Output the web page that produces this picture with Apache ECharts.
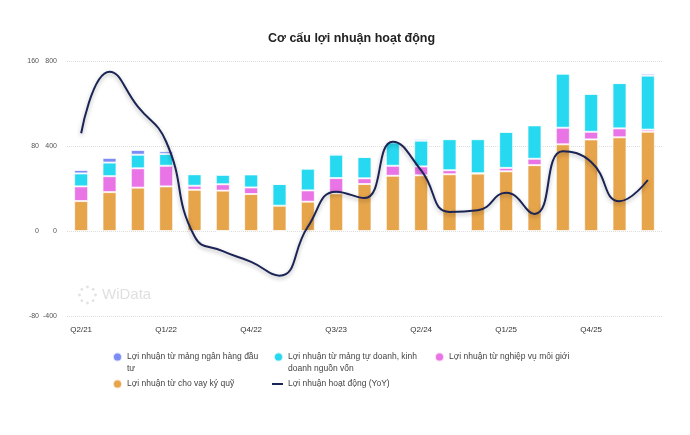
<!DOCTYPE html>
<html>
<head>
<meta charset="utf-8">
<script src="https://cdn.jsdelivr.net/npm/echarts@6/dist/echarts.min.js"></script>
<style>
  html, body { margin: 0; padding: 0; background: #fff; }
  #chart { width: 690px; height: 435px; }
</style>
</head>
<body>
<div id="chart"></div>
<script>
var quarters = ["Q2/21", "Q3/21", "Q4/21", "Q1/22", "Q2/22", "Q3/22", "Q4/22", "Q1/23", "Q2/23", "Q3/23", "Q4/23",
    "Q1/24", "Q2/24", "Q3/24", "Q4/24", "Q1/25", "Q2/25", "Q3/25", "Q4/25", "Q1/26", "Q2/26"];

// billion VND
var marginLending = [141, 183, 204, 210, 194, 190, 174, 119, 138, 177, 221, 260, 262, 267, 270, 281, 310, 408, 431, 441, 467];
var brokerage = [69, 75, 91, 97, 19, 30, 31, -3, 53, 72, 27, 47, 42, 19, 2, 16, 30, 78, 36, 42, 10];
var proprietary = [61, 64, 64, 55, 54, 44, 61, 102, 102, 110, 100, 110, 121, 146, 160, 169, 157, 254, 178, 213, 254];
var investmentBanking = [16, 22, 22, 13, 2, -3, 1, 0, 3, 6, 2, 0, 8, 3, 5, 3, 2, 2, 2, 1, 9];
// %
var operatingYoY = [92, 150, 117, 84, -5, -19, -29, -42, 4, 37, 31, 84, 57, 18, 19.5, 36, 16, 75, 65, 28, 48];

var names = [
    "Lợi nhuận từ mảng ngân hàng đầu tư",
    "Lợi nhuận từ mảng tự doanh, kinh doanh nguồn vốn",
    "Lợi nhuận từ nghiệp vụ môi giới",
    "Lợi nhuận từ cho vay ký quỹ",
    "Lợi nhuận hoạt động (YoY)"
];
var wrapped = {};
wrapped[names[0]] = "Lợi nhuận từ mảng ngân hàng đầu\ntư";
wrapped[names[1]] = "Lợi nhuận từ mảng tự doanh, kinh\ndoanh nguồn vốn";

var FONT = "'Liberation Sans', Arial, sans-serif";

var chart = echarts.init(document.getElementById("chart"));

var barStyle = function(color) {
    return { color: color, borderColor: "rgba(255,255,255,0.7)", borderWidth: 1 };
};

// circle sitting at the top of a tall box, so it lines up with the first text line
var topDot = "path://M0,4.5A4.5,4.5 0 1 1 9,4.5A4.5,4.5 0 1 1 0,4.5Z M0,21L9,21";

function legendFor(name, left, top, extra) {
    return Object.assign({
        data: [name],
        left: left,
        top: top,
        padding: 0,
        itemWidth: 9,
        itemHeight: 9,
        icon: "circle",
        formatter: function(n) { return wrapped[n] || n; },
        textStyle: { fontFamily: FONT, fontSize: 8.5, color: "#444", lineHeight: 12 }
    }, extra || {});
}

// dotted ring of the watermark logo
var logoDots = [];
for (var i = 0; i < 8; i++) {
    var a = i * Math.PI / 4;
    logoDots.push({
        type: "circle",
        shape: { cx: 87.5 + 8 * Math.cos(a), cy: 295 + 8 * Math.sin(a), r: 1.4 },
        style: { fill: "#e2e2e2" },
        silent: true
    });
}

var option = {
    animation: false,
    textStyle: { fontFamily: FONT },
    title: {
        text: "Cơ cấu lợi nhuận hoạt động",
        left: 263,
        top: 27,
        textStyle: { fontFamily: FONT, fontSize: 12.5, fontWeight: "bold", color: "#222" }
    },
    grid: { left: 67, right: 28, top: 61, bottom: 119 },
    legend: [
        legendFor(names[0], 112, 351, { itemHeight: 21, icon: topDot }),
        legendFor(names[1], 273, 351, { itemHeight: 21, icon: topDot }),
        legendFor(names[2], 434, 351),
        legendFor(names[3], 112, 378),
        legendFor(names[4], 272, 378, { itemWidth: 11, itemHeight: 2, icon: "rect" })
    ],
    graphic: logoDots.concat([{
        type: "text",
        left: 102,
        top: 287,
        silent: true,
        style: { text: "WiData", fontSize: 15, fontFamily: FONT, fill: "#e0e0e0" }
    }]),
    xAxis: {
        type: "category",
        data: quarters,
        axisLine: { show: false, onZero: false },
        axisTick: { show: false },
        axisLabel: { interval: 2, fontSize: 8, color: "#333", margin: 10 }
    },
    yAxis: [{
        type: "value",
        position: "left",
        min: -400, max: 800, interval: 400,
        axisLine: { show: false },
        axisTick: { show: false },
        axisLabel: { fontSize: 7, color: "#555", margin: 10 },
        splitLine: { lineStyle: { type: "dotted", color: "#ddd" } }
    }, {
        type: "value",
        position: "left",
        offset: 18,
        min: -80, max: 160, interval: 80,
        axisLine: { show: false },
        axisTick: { show: false },
        axisLabel: { fontSize: 7, color: "#555", margin: 10 },
        splitLine: { show: false }
    }],
    series: [
        { name: names[3], type: "bar", stack: "total", barWidth: 14, itemStyle: barStyle("#e6a54b"), data: marginLending },
        { name: names[2], type: "bar", stack: "total", itemStyle: barStyle("#e874e6"), data: brokerage },
        { name: names[1], type: "bar", stack: "total", itemStyle: barStyle("#27d9f0"), data: proprietary },
        { name: names[0], type: "bar", stack: "total", itemStyle: barStyle("#7b8cf5"), data: investmentBanking },
        {
            name: names[4], type: "line", yAxisIndex: 1, smooth: 0.5, symbol: "none",
            itemStyle: { color: "#1b2454" },
            lineStyle: { color: "#1b2454", width: 2, shadowColor: "rgba(0,0,0,0.3)", shadowBlur: 4, shadowOffsetY: 2 },
            data: operatingYoY
        }
    ]
};

chart.setOption(option);
</script>
</body>
</html>
